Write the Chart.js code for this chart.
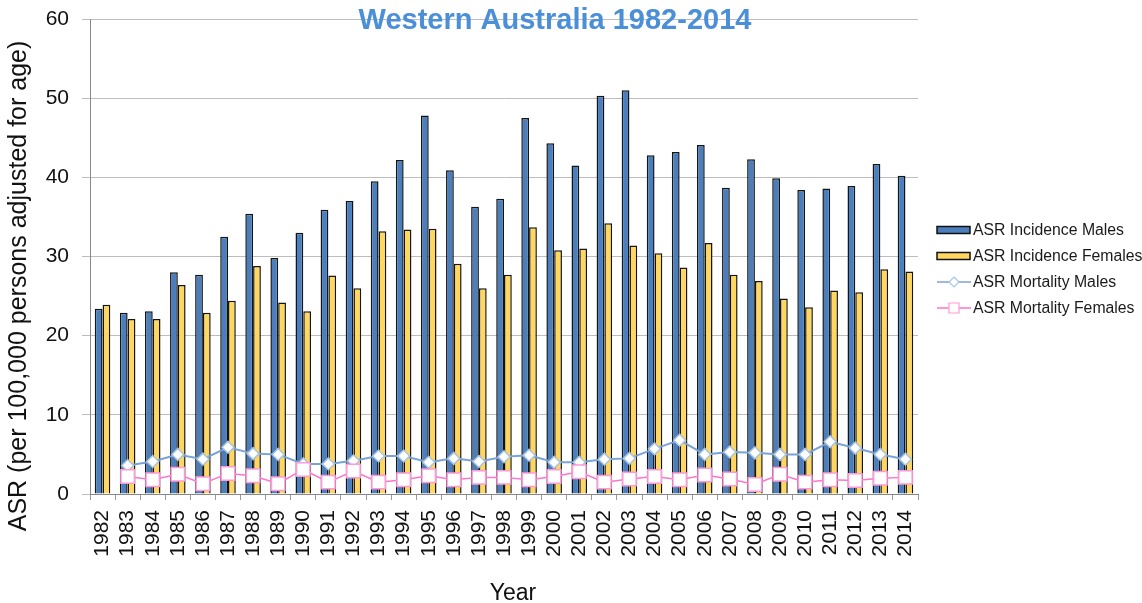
<!DOCTYPE html>
<html>
<head>
<meta charset="utf-8">
<script src="https://cdn.jsdelivr.net/npm/chart.js@4.4.1/dist/chart.umd.min.js"></script>
<style>
  html, body { margin: 0; padding: 0; background: #fff; }
  #wrap { width: 1142px; height: 603px; }
</style>
</head>
<body>
<div id="wrap"><canvas id="asrChart" width="1142" height="603"></canvas></div>
<script>
const years = ['1982', '1983', '1984', '1985', '1986', '1987', '1988', '1989', '1990', '1991', '1992',
  '1993', '1994', '1995', '1996', '1997', '1998', '1999', '2000', '2001', '2002', '2003',
  '2004', '2005', '2006', '2007', '2008', '2009', '2010', '2011', '2012', '2013', '2014'];

const incidenceMales = [23.4, 22.9, 23.1, 28.0, 27.7, 32.5, 35.4, 29.8, 33.0, 35.9, 37.0,
  39.5, 42.2, 47.8, 40.9, 36.3, 37.3, 47.5, 44.3, 41.5, 50.3, 51.0,
  42.8, 43.2, 44.1, 38.7, 42.3, 39.9, 38.4, 38.6, 38.9, 41.7, 40.2];

const incidenceFemales = [23.9, 22.1, 22.1, 26.4, 22.9, 24.4, 28.8, 24.2, 23.1, 27.6, 26.0,
  33.2, 33.4, 33.5, 29.1, 26.0, 27.7, 33.7, 30.8, 31.0, 34.2, 31.4,
  30.4, 28.6, 31.7, 27.7, 26.9, 24.7, 23.6, 25.7, 25.5, 28.4, 28.1];

const mortalityMales = [null, 3.6, 4.1, 5.0, 4.4, 5.9, 5.1, 5.0, 3.8, 3.8, 4.2,
  4.8, 4.8, 4.0, 4.5, 4.1, 4.7, 4.9, 4.0, 4.0, 4.4, 4.5,
  5.7, 6.8, 5.0, 5.3, 5.2, 5.0, 5.0, 6.6, 5.8, 5.0, 4.4];

const mortalityFemales = [null, 2.2, 1.8, 2.5, 1.3, 2.6, 2.3, 1.3, 3.1, 1.5, 2.9,
  1.5, 1.8, 2.3, 1.8, 2.1, 2.1, 1.8, 2.2, 2.8, 1.5, 1.9,
  2.2, 1.8, 2.4, 1.9, 1.2, 2.5, 1.5, 1.8, 1.7, 2.0, 2.1];

const seriesNames = ['ASR Incidence Males', 'ASR Incidence Females', 'ASR Mortality Males', 'ASR Mortality Females'];
const yTicks = [0, 10, 20, 30, 40, 50, 60];

const FONT = "'Liberation Sans', Arial, sans-serif";
const blue = '#4a7ebd', yellow = '#ffd75e';
const lineBlue = '#78a3d8', markBlue = '#a9c4e2';
const pink = '#ff74c8', markPink = '#ff9ad8';

// legend is drawn by hand so it sits where the original one does
function drawLegendGlyph(g, i, x, y) {
  g.save();
  if (i < 2) {
    g.fillStyle = i === 0 ? blue : yellow;
    g.fillRect(x, y - 3.5, 33, 7);
    g.strokeStyle = '#111';
    g.lineWidth = 1.5;
    g.strokeRect(x, y - 3.5, 33, 7);
  } else {
    g.strokeStyle = i === 2 ? lineBlue : pink;
    g.lineWidth = 1.5;
    g.beginPath(); g.moveTo(x, y); g.lineTo(x + 34, y); g.stroke();
    g.fillStyle = '#fff';
    g.strokeStyle = i === 2 ? markBlue : markPink;
    g.lineWidth = 1.2;
    g.beginPath();
    const cx = x + 17;
    if (i === 2) {
      g.moveTo(cx, y - 5); g.lineTo(cx + 5, y); g.lineTo(cx, y + 5); g.lineTo(cx - 5, y); g.closePath();
    } else {
      g.rect(cx - 5, y - 5, 10, 10);
    }
    g.fill(); g.stroke();
  }
  g.restore();
}

const textPlugin = {
  id: 'textPlugin',
  afterDraw(chart) {
    const ctx = chart.ctx;
    ctx.save();
    ctx.textAlign = 'center';
    ctx.textBaseline = 'middle';
    ctx.fillStyle = '#4a8fd8';
    ctx.font = "bold 29px " + FONT;
    ctx.fillText('Western Australia 1982-2014', 555, 21);

    ctx.fillStyle = '#111';
    ctx.font = "23px " + FONT;
    ctx.fillText('Year', 513, 594);
    ctx.save();
    ctx.font = "25px " + FONT;
    ctx.translate(19, 286);
    ctx.rotate(-Math.PI / 2);
    ctx.fillText('ASR (per 100,000 persons adjusted for age)', 0, 0);
    ctx.restore();

    // legend
    const rowY = [230, 256, 282, 308];
    ctx.textAlign = 'left';
    ctx.fillStyle = '#1a1a1a';
    ctx.font = "15.8px " + FONT;
    seriesNames.forEach((name, i) => {
      drawLegendGlyph(ctx, i, 937, rowY[i]);
      ctx.fillText(name, 973, rowY[i] + 1);
    });
    ctx.restore();
  }
};

const ctx = document.getElementById('asrChart').getContext('2d');
const asrChart = new Chart(ctx, {
  data: {
    labels: years,
    datasets: [
      { type: 'bar', label: seriesNames[0], data: incidenceMales, backgroundColor: blue,
        borderColor: '#151515', borderWidth: 1.5, order: 2,
        barPercentage: 1, categoryPercentage: 0.62 },
      { type: 'bar', label: seriesNames[1], data: incidenceFemales, backgroundColor: yellow,
        borderColor: '#151515', borderWidth: 1.5, order: 2,
        barPercentage: 1, categoryPercentage: 0.62 },
      { type: 'line', label: seriesNames[2], data: mortalityMales, borderColor: lineBlue, borderWidth: 2,
        pointStyle: 'rectRot', pointRadius: 6, pointBackgroundColor: '#fff', pointBorderColor: markBlue,
        pointBorderWidth: 1.5, order: 1, spanGaps: false },
      { type: 'line', label: seriesNames[3], data: mortalityFemales, borderColor: pink, borderWidth: 1.5,
        pointStyle: 'rect', pointRadius: 9.5, pointBackgroundColor: '#fff', pointBorderColor: markPink,
        pointBorderWidth: 1.5, order: 0, spanGaps: false }
    ]
  },
  options: {
    responsive: false,
    animation: false,
    layout: { padding: { top: 19, left: 0, right: 224, bottom: 0 } },
    plugins: {
      tooltip: { enabled: false },
      title: { display: false },
      legend: { display: false }
    },
    scales: {
      x: {
        grid: { display: true, drawOnChartArea: false, drawTicks: true, tickLength: 6, color: '#999', offset: true },
        border: { color: '#888', width: 1 },
        ticks: { autoSkip: false, minRotation: 90, maxRotation: 90, padding: 10, color: '#111', font: { family: FONT, size: 21 } },
        afterFit: s => { s.height = 109; }
      },
      y: {
        min: 0, max: 60,
        afterBuildTicks: s => { s.ticks = yTicks.map(v => ({ value: v })); },
        grid: { color: '#bdbdbd', lineWidth: 1, tickLength: 8 },
        border: { color: '#888', width: 1 },
        ticks: { padding: 13, color: '#111', font: { family: FONT, size: 21 } },
        afterFit: s => { s.width = 90; s.paddingTop = 0; s.paddingBottom = 0; }
      }
    }
  },
  plugins: [textPlugin]
});
</script>
</body>
</html>
